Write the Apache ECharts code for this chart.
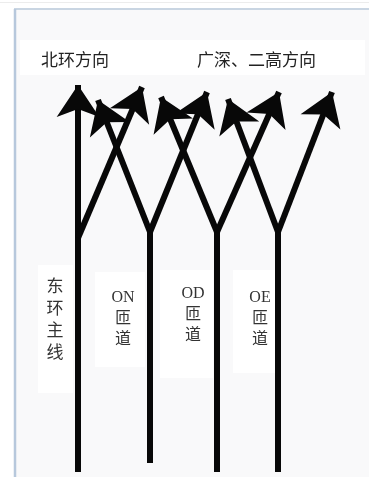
<!DOCTYPE html>
<html>
<head>
<meta charset="utf-8">
<script src="https://cdn.jsdelivr.net/npm/echarts@6/dist/echarts.min.js"></script>
<style>
  html, body { margin: 0; padding: 0; background: #fff; }
  #main { width: 369px; height: 477px; }
</style>
</head>
<body>
<div id="main"></div>
<script>
// lane positions (diagram units = px of the reference)
const laneX = [78, 150, 217, 278];
const laneBottom = [472, 463, 472, 472];
const forkY = [238, 232, 232, 232];
// arrow tips
const mainTip = [78, 85];
const leftTips = [null, [98, 100], [161, 97], [228, 99]];
const rightTips = [[142, 87], [207, 92], [279, 92], [332, 92]];

const topLabels = ['北环方向', '广深、二高方向'];
const laneLabels = ['东\n环\n主\n线', 'ON\n匝\n道', 'OD\n匝\n道', 'OE\n匝\n道'];

function buildStems() {
  return laneX.slice(1).map(function (x, k) {
    var i = k + 1;
    return { coords: [[x, laneBottom[i]], [x, forkY[i]]] };
  });
}

function buildArrows() {
  var out = [];
  laneX.forEach(function (x, i) {
    var bottom = [x, laneBottom[i]];
    var fork = [x, forkY[i]];
    if (i === 0) {
      out.push({ coords: [bottom, mainTip] });
      out.push({ coords: [fork, rightTips[i]] });
    } else {
      out.push({ coords: [fork, leftTips[i]] });
      out.push({ coords: [fork, rightTips[i]] });
    }
  });
  return out;
}

var myChart = echarts.init(document.getElementById('main'));

var lineStyle = { color: '#080808', width: 6, opacity: 1, curveness: 0 };
var labelFont = '"Liberation Serif", "Noto Sans CJK SC"';

var options = {
  animation: false,
  grid: { left: 0, right: 0, top: 0, bottom: 0 },
  xAxis: { type: 'value', min: 0, max: 369, show: false },
  yAxis: { type: 'value', min: 0, max: 477, inverse: true, show: false },
  graphic: [
    { type: 'line', shape: { x1: 0, y1: 2.5, x2: 369, y2: 2.5 }, style: { stroke: '#ececec', lineWidth: 1 }, z: 0 },
    { type: 'rect', shape: { x: 15, y: 9, width: 360, height: 470 }, style: { fill: '#f9f9fa', stroke: '#c9d5e2', lineWidth: 2 }, z: 0 },
    { type: 'line', shape: { x1: 15, y1: 9, x2: 15, y2: 477 }, style: { stroke: '#b7c8dc', lineWidth: 2.5 }, z: 0 },
    { type: 'rect', shape: { x: 20, y: 40, width: 345, height: 35 }, style: { fill: '#fff' }, z: 1 },
    { type: 'rect', shape: { x: 38, y: 265, width: 35, height: 128 }, style: { fill: '#fff' }, z: 1 },
    { type: 'rect', shape: { x: 95, y: 272, width: 50, height: 95 }, style: { fill: '#fff' }, z: 1 },
    { type: 'rect', shape: { x: 160, y: 270, width: 53, height: 108 }, style: { fill: '#fff' }, z: 1 },
    { type: 'rect', shape: { x: 233, y: 270, width: 42, height: 103 }, style: { fill: '#fff' }, z: 1 },
    { type: 'text', left: 41, top: 51, z: 2, style: { text: topLabels[0], font: '17px "Noto Sans CJK SC"', fill: '#222' } },
    { type: 'text', left: 197, top: 51, z: 2, style: { text: topLabels[1], font: '17px "Noto Sans CJK SC"', fill: '#222' } },
    { type: 'text', x: 55, y: 277, z: 2, style: { text: laneLabels[0], font: '17px ' + labelFont, lineHeight: 22, align: 'center', verticalAlign: 'top', fill: '#333' } },
    { type: 'text', x: 123, y: 287, z: 2, style: { text: laneLabels[1], font: '16px ' + labelFont, lineHeight: 21, align: 'center', verticalAlign: 'top', fill: '#333' } },
    { type: 'text', x: 193, y: 283, z: 2, style: { text: laneLabels[2], font: '16px ' + labelFont, lineHeight: 21, align: 'center', verticalAlign: 'top', fill: '#333' } },
    { type: 'text', x: 260, y: 287, z: 2, style: { text: laneLabels[3], font: '16px ' + labelFont, lineHeight: 21, align: 'center', verticalAlign: 'top', fill: '#333' } }
  ],
  series: [
    {
      type: 'lines',
      coordinateSystem: 'cartesian2d',
      z: 10,
      symbol: ['none', 'none'],
      lineStyle: lineStyle,
      data: buildStems()
    },
    {
      type: 'lines',
      coordinateSystem: 'cartesian2d',
      z: 10,
      symbol: ['none', 'arrow'],
      symbolSize: [30, 32],
      lineStyle: lineStyle,
      data: buildArrows()
    }
  ]
};

myChart.setOption(options);
window.onresize = function () {
  myChart.resize();
};
</script>
</body>
</html>
